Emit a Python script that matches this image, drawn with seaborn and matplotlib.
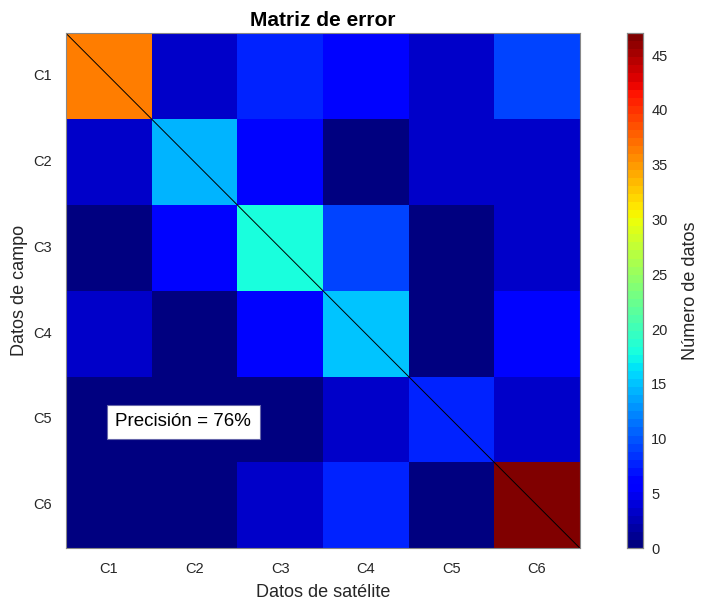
import numpy as np
import pandas as pd
import matplotlib
matplotlib.use("Agg")
import matplotlib.pyplot as plt
import seaborn as sns

# ================= DATA =================
classes = ["C1", "C2", "C3", "C4", "C5", "C6"]
row_c1 = [36, 3, 8, 6, 3, 9]
row_c2 = [3, 14, 6, 0, 3, 3]
row_c3 = [0, 6, 18, 9, 0, 3]
row_c4 = [3, 0, 6, 15, 0, 6]
row_c5 = [0, 0, 0, 3, 8, 3]
row_c6 = [0, 0, 3, 8, 0, 47]
cbar_ticks = [0, 5, 10, 15, 20, 25, 30, 35, 40, 45]
precision_text = "Precisión = 76%"

cm = pd.DataFrame([row_c1, row_c2, row_c3, row_c4, row_c5, row_c6],
                  index=classes, columns=classes)

# ================= STYLE =================
sns.set_style("white")
plt.rcParams["font.family"] = ["Liberation Sans", "DejaVu Sans"]
txt_color = "#262626"

fig = plt.figure(figsize=(7.02, 6.05), dpi=100)
ax = fig.add_axes([0.094, 0.094, 0.732, 0.851])
cax = fig.add_axes([0.893, 0.094, 0.023, 0.851])

sns.heatmap(cm, ax=ax, cbar_ax=cax, cmap=plt.get_cmap("jet", 64),
            vmin=0, vmax=47, square=False, linewidths=0,
            cbar_kws={"ticks": cbar_ticks})

# diagonal
ax.plot([0, len(classes)], [0, len(classes)], color="black", lw=0.7)

ax.text(1.37, 4.53, precision_text, ha="center", va="center", fontsize=13.5,
        color="black",
        bbox=dict(boxstyle="square,pad=0.45", facecolor="white",
                  edgecolor="#6666aa", linewidth=0.8))

ax.set_title("Matriz de error", fontsize=15, fontweight="bold", pad=5,
             color="black")
ax.set_xlabel("Datos de satélite", fontsize=13, color=txt_color, labelpad=6)
ax.set_ylabel("Datos de campo", fontsize=13, color=txt_color, labelpad=4)
ax.tick_params(axis="both", direction="in", length=4, width=0.6,
               colors="#555555", labelcolor=txt_color, labelsize=10.5,
               bottom=True, left=True, top=True, right=True, pad=10)
ax.tick_params(axis="y", labelrotation=0)
for s in ax.spines.values():
    s.set_visible(True)
    s.set_color("#888888")
    s.set_linewidth(0.8)

cax.tick_params(direction="in", length=4, width=0.6, colors="#555555",
                labelcolor=txt_color, labelsize=10.5, pad=6)
cax.set_ylabel("Número de datos", fontsize=13, color=txt_color, labelpad=10)
cax.yaxis.set_label_position("right")
for s in cax.spines.values():
    s.set_visible(True)
    s.set_color("#888888")
    s.set_linewidth(0.8)

plt.savefig("out.png", dpi=100)
